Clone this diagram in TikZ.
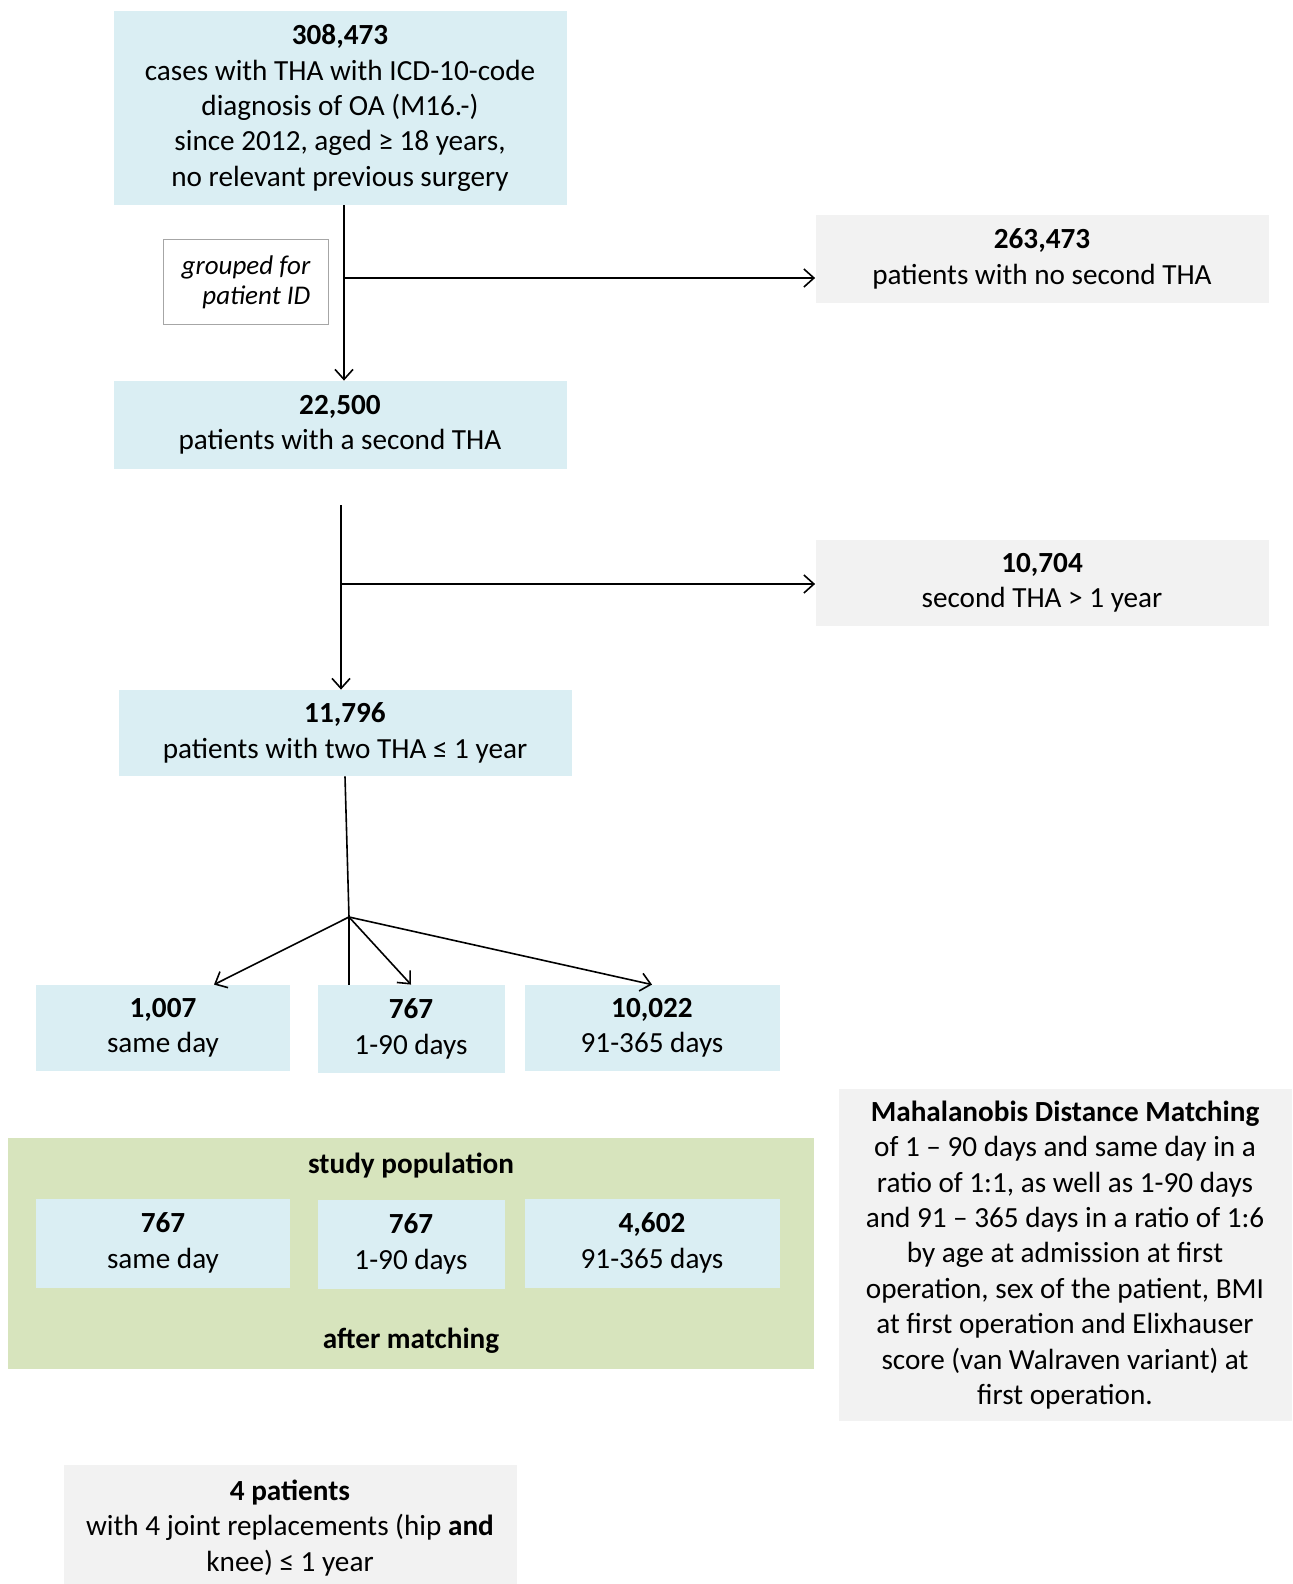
\documentclass[tikz,border=0pt]{standalone}
\usepackage{fontspec}
\setmainfont{Carlito}
\usetikzlibrary{arrows.meta}
\definecolor{boxblue}{HTML}{DAEEF3}
\definecolor{boxgray}{HTML}{F2F2F2}
\definecolor{boxgreen}{HTML}{D7E4BD}

\begin{document}
\begin{tikzpicture}[x=0.5pt, y=-0.5pt, >={Straight Barb[length=5pt, width=9pt]},
	every node/.style={font=\fontsize{14.6}{17.7}\selectfont, align=center, inner sep=0pt},
	bluebox/.style={fill=boxblue, minimum width=226.5pt, minimum height=44pt},
	graybox/.style={fill=boxgray, minimum width=226.5pt, minimum height=44pt},
	line/.style={line width=0.8pt}]
	\useasboundingbox (0, 0) rectangle (1292, 1584);
	% upper chain
	\node[bluebox, minimum height=97pt] (top) at (340, 108) {\textbf{308,473}\\cases with THA with ICD-10-code\\diagnosis of OA (M16.-)\\since 2012, aged ≥ 18 years,\\no relevant previous surgery};
	\node[draw=gray!70, line width=0.5pt, minimum width=82.5pt, minimum height=42.5pt, align=right, font=\fontsize{13.5}{15}\selectfont\itshape] (grouped) at (246, 282) {grouped for\\patient ID};
	\node[graybox] (nosecond) at (1042, 259) {\textbf{263,473}\\patients with no second THA};
	\node[bluebox] (second) at (340, 425) {\textbf{22,500}\\patients with a second THA};
	\node[graybox, minimum height=43pt] (late) at (1042, 583) {\textbf{10,704}\\second THA > 1 year};
	\node[bluebox, minimum height=43pt] (within) at (345, 733) {\textbf{11,796}\\patients with two THA ≤ 1 year};
	% split by interval
	\node[bluebox, minimum width=127pt, minimum height=43pt] (sameday) at (163, 1028) {\textbf{1,007}\\same day};
	\node[bluebox, minimum width=93.5pt, minimum height=44pt] (early) at (411, 1029) {\textbf{767}\\1-90 days};
	\node[bluebox, minimum width=127.5pt, minimum height=43pt] (later) at (652, 1028) {\textbf{10,022}\\91-365 days};
	% study population
	\node[fill=boxgreen, minimum width=403pt, minimum height=115.5pt] (study) at (411, 1253) {};
	\node (studylab) at (411, 1166) {\textbf{study population}};
	\node (afterlab) at (411, 1341) {\textbf{after matching}};
	\node[bluebox, minimum width=127pt, minimum height=44.5pt] (sameM) at (163, 1243) {\textbf{767}\\same day};
	\node[bluebox, minimum width=93.5pt, minimum height=44.5pt] (earlyM) at (411, 1244) {\textbf{767}\\1-90 days};
	\node[bluebox, minimum width=127.5pt, minimum height=44.5pt] (laterM) at (652, 1243) {\textbf{4,602}\\91-365 days};
	\node[graybox, minimum height=166pt] (mahal) at (1065, 1255) {\textbf{Mahalanobis Distance Matching}\\of 1 -- 90 days and same day in a\\ratio of 1:1, as well as 1-90 days\\and 91 -- 365 days in a ratio of 1:6\\by age at admission at first\\operation, sex of the patient, BMI\\at first operation and Elixhauser\\score (van Walraven variant) at\\first operation.};
	\node[graybox, minimum height=63pt] (fourpat) at (290, 1528) {\textbf{4 patients}\\with 4 joint replacements (hip \textbf{and}\\knee) ≤ 1 year};
	% connectors
	\coordinate (fork1) at (344, 278);
	\draw[line, ->] (top.south -| fork1) -- (second.north -| fork1);
	\draw[line, ->] (fork1) -- (fork1 -| nosecond.west);
	\coordinate (start2) at (341, 505);
	\coordinate (fork2) at (341, 584);
	\draw[line, ->] (start2) -- (start2 |- within.north);
	\draw[line, ->] (fork2) -- (fork2 -| late.west);
	\coordinate (fork3) at (349, 917);
	\draw[line] (within.south) -- (fork3);
	\draw[line] (fork3) -- (fork3 |- early.north);
	\draw[line, ->] (fork3) -- ([xshift=25.5pt]sameday.north);
	\draw[line, ->] (fork3) -- (early.north);
	\draw[line, ->] (fork3) -- (later.north);
\end{tikzpicture}
\end{document}
